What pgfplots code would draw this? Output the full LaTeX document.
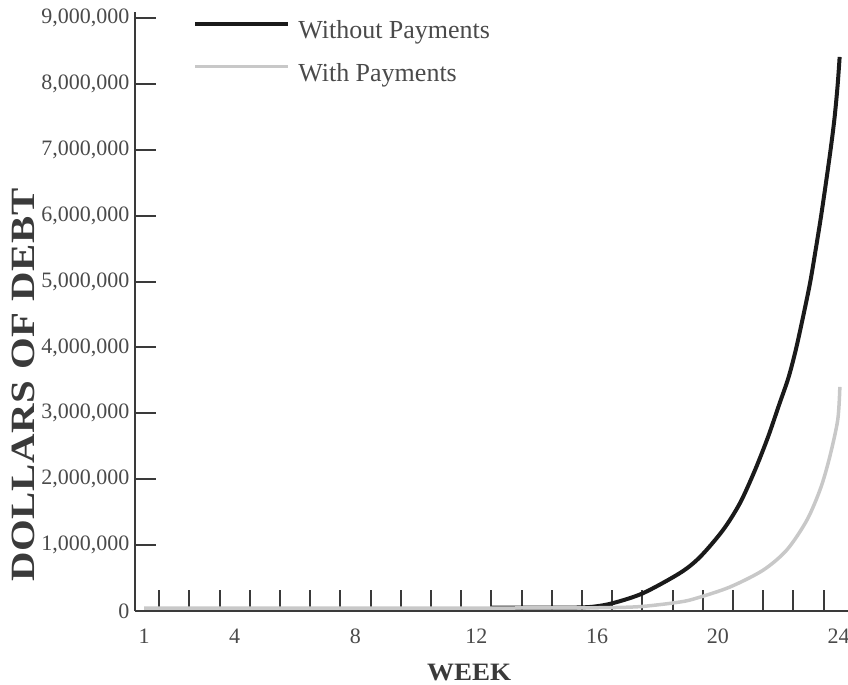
\documentclass[border=0pt]{standalone}
\usepackage{fontspec}
\setmainfont{Liberation Serif}
\usepackage{pgfplots}
\pgfplotsset{compat=1.18}

\definecolor{axisgray}{HTML}{3A3A3A}
\definecolor{labelgray}{HTML}{4A4A4A}
\definecolor{curveblack}{HTML}{1A1A1A}
\definecolor{curvegray}{HTML}{C8C8C8}

\begin{document}
\begin{tikzpicture}
\begin{axis}[
  at={(0,0)}, anchor=south west,
  scale only axis,
  width=713bp, height=599bp,
  xmin=0.70, xmax=24.31,
  ymin=0, ymax=9090000,
  axis x line*=bottom,
  axis y line*=left,
  axis line style={draw=axisgray, line width=2.5bp},
  every tick/.style={draw=axisgray, line width=2bp},
  tick align=inside,
  major tick length=21bp,
  xtick={1.5,2.5,...,23.5},
  xticklabels={},
  extra x ticks={1,4,8,12,16,20,24},
  extra x tick labels={1,4,8,12,16,20,24},
  extra x tick style={major tick length=0pt},
  ytick={0,1000000,...,9000000},
  scaled y ticks=false,
  /pgf/number format/.cd, fixed, 1000 sep={,}, assume math mode=true,
  /pgfplots/.cd,
  tick label style={font=\fontsize{22bp}{24bp}\selectfont, text=labelgray},
  xticklabel style={yshift=-14bp},
  yticklabel style={xshift=-2bp},
  xlabel={WEEK},
  ylabel={DOLLARS OF DEBT},
  xlabel style={at={(axis description cs:0.4685,-0.088)}, anchor=north, inner sep=0pt,
    font=\fontsize{25bp}{27bp}\selectfont\bfseries\addfontfeature{FakeStretch=1.08}, text=axisgray},
  ylabel style={at={(axis description cs:-0.1725,0.377)}, anchor=north, inner sep=0pt, rotate=0,
    font=\fontsize{34bp}{36bp}\selectfont\bfseries\addfontfeature{FakeStretch=1.2,LetterSpace=2}, text=axisgray},
  legend style={draw=none, fill=none, at={(axis description cs:0.0815,0.986)}, anchor=north west,
    inner sep=0pt, row sep=19bp, column sep=8bp,
    nodes={inner sep=0pt, text height=18bp, text depth=6bp},
    font=\fontsize{26bp}{28bp}\selectfont, text=labelgray},
  legend cell align=left,
  legend image code/.code={\draw[#1] (0bp,9bp) -- (93bp,9bp);},
  clip=false,
]
% without payments
\addplot[curveblack, line width=4bp, smooth, tension=0.5] coordinates {
  (12.5,0.05e6) (14,0.05e6) (15.2,0.052e6) (15.87,0.065e6) (16.53,0.12e6)
  (17.52,0.27e6) (18.748,0.577e6) (19.41,0.82e6) (20.172,1.229e6) (20.735,1.639e6)
  (21.232,2.14e6) (21.662,2.641e6) (22.026,3.126e6) (22.335,3.536e6) (22.58,3.961e6)
  (22.821,4.462e6) (23.053,4.978e6) (23.238,5.479e6) (23.414,5.98e6) (23.579,6.496e6)
  (23.732,6.997e6) (23.864,7.482e6) (23.967,7.983e6) (24.033,8.408e6)
};
% with payments
\addplot[curvegray, line width=3.5bp, smooth, tension=0.5] coordinates {
  (1.0,0.045e6) (4,0.045e6) (8,0.045e6) (12,0.045e6) (15,0.047e6) (16.5,0.052e6)
  (17.52,0.07e6) (18.75,0.137e6) (19.31,0.197e6) (20.40,0.364e6) (21.50,0.62e6)
  (22.29,0.93e6) (22.95,1.38e6) (23.40,1.86e6) (23.70,2.33e6) (23.97,2.90e6)
  (24.04,3.40e6)
};
\legend{Without Payments, With Payments}
\end{axis}
\pgfresetboundingbox
\path[use as bounding box] (-135bp,-74bp) rectangle (713bp,611bp);
\end{tikzpicture}
\end{document}
